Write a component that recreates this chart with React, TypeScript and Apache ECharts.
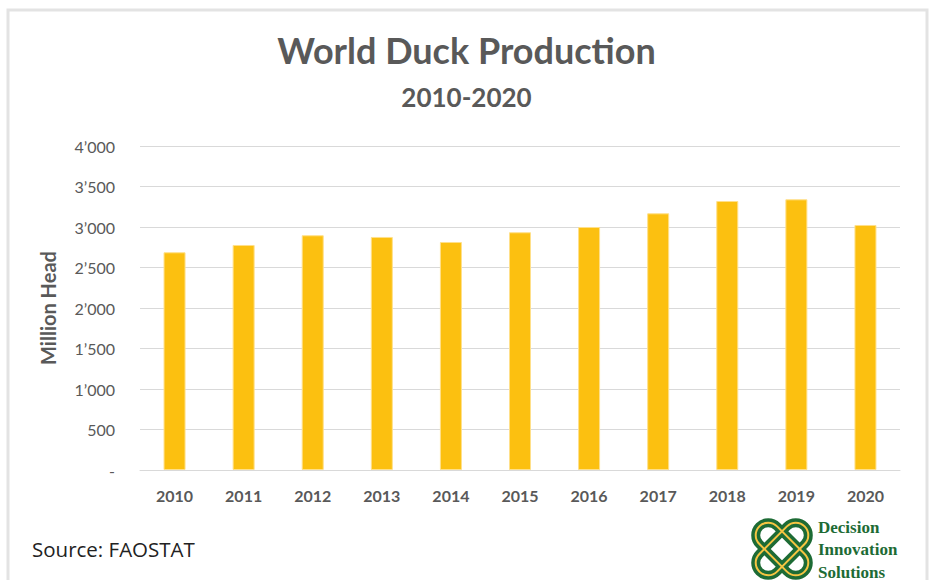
import React, { useEffect, useRef } from "react";
import * as echarts from "echarts";

const years = ["2010", "2011", "2012", "2013", "2014", "2015", "2016", "2017", "2018", "2019", "2020"];
const duckHeads = [2688, 2778, 2898, 2877, 2815, 2935, 3000, 3169, 3321, 3342, 3025];
const yTicks = { min: 0, max: 4000, interval: 500 };

const titleText = "World Duck Production";
const subtitleText = "2010-2020";
const yAxisName = "Million Head";
const sourceText = "Source: FAOSTAT";
const logoLines = ["Decision", "Innovation", "Solutions"];

function fmt(v: number): string {
  if (v === 0) return "-";
  if (v >= 1000) {
    const th = Math.floor(v / 1000);
    const rest = String(v % 1000).padStart(3, "0");
    return `${th}\u2019${rest}`;
  }
  return String(v);
}

const FONT = "Lato, 'Open Sans', sans-serif";
const GREEN = "#1d6b35";
const GOLD = "#f5c542";

export default function App() {
  const ref = useRef<HTMLDivElement>(null);
  useEffect(() => {
    if (!ref.current) return;
    const chart = echarts.init(ref.current, undefined, { renderer: "svg" });
    const cx = 782;
    const cy = 549;
    const knot = (rot: number) => [
      {
        type: "rect",
        x: cx,
        y: cy,
        rotation: rot,
        shape: { x: -32, y: -12.5, width: 64, height: 25, r: 12.5 },
        style: { fill: "none", stroke: GREEN, lineWidth: 9 },
        z: 10,
      },
      {
        type: "rect",
        x: cx,
        y: cy,
        rotation: rot,
        shape: { x: -32, y: -12.5, width: 64, height: 25, r: 12.5 },
        style: { fill: "none", stroke: GOLD, lineWidth: 2 },
        z: 11,
      },
    ];
    chart.setOption({
      animation: false,
      backgroundColor: "#ffffff",
      title: [
        {
          text: titleText,
          left: "center",
          top: 27,
          textStyle: { fontFamily: FONT, fontSize: 36, fontWeight: "bold", color: "#595959" },
        },
        {
          text: subtitleText,
          left: "center",
          top: 79,
          textStyle: { fontFamily: FONT, fontSize: 26, fontWeight: "bold", color: "#595959" },
        },
      ],
      grid: { left: 140, right: 33, top: 146, bottom: 110, containLabel: false },
      xAxis: {
        type: "category",
        data: years,
        axisLine: { show: true, lineStyle: { color: "#d9d9d9", width: 1 } },
        axisTick: { show: false },
        axisLabel: {
          fontFamily: FONT,
          fontSize: 16,
          fontWeight: "bold",
          color: "#595959",
          margin: 17,
        },
      },
      yAxis: {
        type: "value",
        min: yTicks.min,
        max: yTicks.max,
        interval: yTicks.interval,
        name: yAxisName,
        nameLocation: "middle",
        nameGap: 82,
        nameTextStyle: { fontFamily: FONT, fontSize: 20, fontWeight: "bold", color: "#595959" },
        axisLine: { show: false },
        axisTick: { show: false },
        splitLine: { lineStyle: { color: "#d9d9d9", width: 1 } },
        axisLabel: {
          fontFamily: FONT,
          fontSize: 16,
          color: "#595959",
          margin: 25,
          formatter: (v: number) => fmt(v),
        },
      },
      series: [
        {
          type: "bar",
          data: duckHeads,
          barWidth: 22,
          itemStyle: { color: "#fcc010", borderColor: "#ffe08a", borderWidth: 1 },
        },
      ],
      graphic: [
        {
          type: "rect",
          shape: { x: 8, y: 10, width: 919, height: 580 },
          style: { fill: "none", stroke: "#e3e3e3", lineWidth: 3 },
          silent: true,
        },
        {
          type: "text",
          x: 32,
          y: 549,
          style: {
            text: sourceText,
            fontFamily: "'Open Sans', sans-serif",
            fontSize: 20.5,
            fill: "#222222",
            verticalAlign: "middle",
          },
        },
        ...knot(Math.PI / 4),
        ...knot(-Math.PI / 4),
        ...logoLines.map((t, i) => ({
          type: "text",
          x: 818,
          y: 527 + i * 22.5,
          style: {
            text: t,
            fontFamily: "'Liberation Serif', 'DejaVu Serif', serif",
            fontSize: 17,
            fontWeight: "bold",
            fill: GREEN,
            verticalAlign: "middle",
          },
        })),
      ],
    });
    return () => chart.dispose();
  }, []);
  return (
    <div
      ref={ref}
      style={{ position: "fixed", left: 0, top: 0, width: 933, height: 580 }}
    />
  );
}
